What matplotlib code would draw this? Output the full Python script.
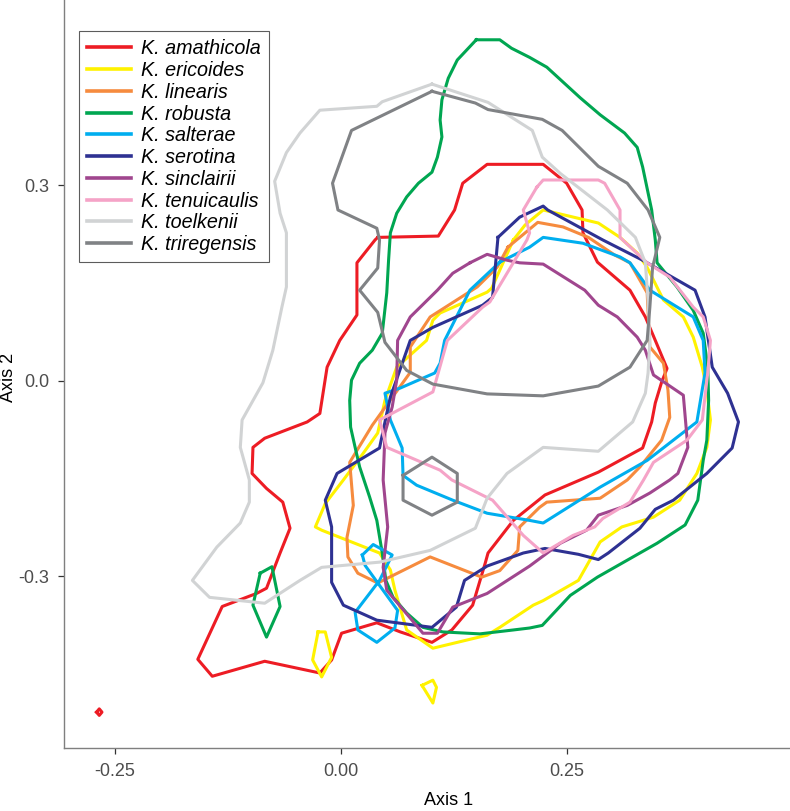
import matplotlib
matplotlib.use('Agg')
import matplotlib.pyplot as plt

plt.rcParams['font.family'] = ['Liberation Sans', 'DejaVu Sans']

# Species names and colours (legend order)
species = ['K. amathicola', 'K. ericoides', 'K. linearis', 'K. robusta', 'K. salterae',
           'K. serotina', 'K. sinclairii', 'K. tenuicaulis', 'K. toelkenii', 'K. triregensis']
colors = ['#ED1C24', '#FFF200', '#F68B3E', '#00A651', '#00AEEF',
          '#2E3192', '#A0468E', '#F5A3C7', '#D1D3D4', '#808285']

# Contour outlines, (Axis 1, Axis 2)
amathicola_main = [(0.041, 0.220), (0.108, 0.222), (0.126, 0.262), (0.135, 0.303), (0.162, 0.332),
                   (0.224, 0.332), (0.250, 0.303), (0.267, 0.262), (0.268, 0.227), (0.284, 0.182),
                   (0.320, 0.139), (0.337, 0.098), (0.348, 0.062), (0.361, 0.019), (0.355, -0.002),
                   (0.348, -0.034), (0.344, -0.063), (0.334, -0.103), (0.285, -0.140), (0.226, -0.175),
                   (0.191, -0.214), (0.163, -0.264), (0.160, -0.279), (0.146, -0.344), (0.123, -0.382),
                   (0.101, -0.401), (0.066, -0.385), (0.040, -0.371), (0.001, -0.387), (-0.010, -0.428),
                   (-0.023, -0.448), (-0.084, -0.430), (-0.142, -0.453), (-0.158, -0.427), (-0.131, -0.346),
                   (-0.093, -0.326), (-0.082, -0.318), (-0.067, -0.264), (-0.056, -0.226), (-0.064, -0.186),
                   (-0.082, -0.165), (-0.098, -0.142), (-0.097, -0.102), (-0.084, -0.088), (-0.037, -0.063),
                   (-0.023, -0.050), (-0.015, 0.021), (-0.001, 0.062), (0.018, 0.101), (0.018, 0.181),
                   (0.038, 0.216)]
amathicola_dot = [(-0.270, -0.508), (-0.267, -0.503), (-0.264, -0.508), (-0.267, -0.513)]

ericoides_main = [(0.191, 0.216), (0.204, 0.239), (0.224, 0.262), (0.285, 0.242), (0.309, 0.220),
                  (0.328, 0.196), (0.339, 0.174), (0.357, 0.124), (0.379, 0.098), (0.390, 0.067),
                  (0.400, 0.021), (0.405, -0.014), (0.409, -0.060), (0.405, -0.102), (0.394, -0.142),
                  (0.375, -0.183), (0.346, -0.209), (0.311, -0.224), (0.287, -0.247), (0.263, -0.306),
                  (0.224, -0.337), (0.213, -0.344), (0.176, -0.378), (0.162, -0.390), (0.102, -0.410),
                  (0.073, -0.382), (0.060, -0.321), (0.055, -0.290), (0.043, -0.264), (-0.021, -0.229),
                  (-0.028, -0.224), (-0.017, -0.188), (0.003, -0.152), (0.025, -0.111), (0.041, -0.080),
                  (0.049, -0.030), (0.062, 0.021), (0.095, 0.062), (0.102, 0.093), (0.110, 0.104),
                  (0.162, 0.136), (0.167, 0.142)]
ericoides_left = [(-0.025, -0.385), (-0.017, -0.385), (-0.010, -0.424), (-0.021, -0.454), (-0.031, -0.428)]
ericoides_low = [(0.090, -0.467), (0.102, -0.459), (0.106, -0.470), (0.102, -0.494)]

linearis_main = [(0.185, 0.205), (0.218, 0.243), (0.246, 0.236), (0.274, 0.220), (0.303, 0.193),
                 (0.320, 0.181), (0.339, 0.135), (0.342, 0.052), (0.357, 0.027), (0.362, -0.014),
                 (0.364, -0.056), (0.355, -0.091), (0.331, -0.132), (0.317, -0.152), (0.287, -0.180),
                 (0.228, -0.186), (0.220, -0.194), (0.198, -0.224), (0.196, -0.260), (0.176, -0.291),
                 (0.156, -0.301), (0.099, -0.270), (0.041, -0.310), (0.019, -0.295), (0.008, -0.270),
                 (0.007, -0.240), (0.014, -0.191), (0.010, -0.125), (0.035, -0.068), (0.077, 0.013),
                 (0.077, 0.052), (0.099, 0.098), (0.151, 0.144), (0.173, 0.174)]

robusta_main = [(0.150, 0.523), (0.176, 0.523), (0.189, 0.510), (0.209, 0.496), (0.228, 0.481),
                (0.265, 0.434), (0.287, 0.408), (0.314, 0.380), (0.328, 0.358), (0.334, 0.328),
                (0.344, 0.262), (0.348, 0.216), (0.350, 0.181), (0.372, 0.144), (0.390, 0.108),
                (0.401, 0.073), (0.406, 0.021), (0.407, -0.030), (0.405, -0.091), (0.401, -0.122),
                (0.395, -0.183), (0.381, -0.221), (0.350, -0.249), (0.284, -0.301), (0.254, -0.329),
                (0.223, -0.375), (0.209, -0.379), (0.191, -0.382), (0.154, -0.388), (0.113, -0.385),
                (0.091, -0.378), (0.073, -0.356), (0.058, -0.332), (0.050, -0.306), (0.046, -0.264),
                (0.040, -0.214), (0.032, -0.178), (0.021, -0.132), (0.016, -0.102), (0.011, -0.071),
                (0.010, -0.030), (0.012, 0.001), (0.021, 0.027), (0.035, 0.047), (0.046, 0.073),
                (0.051, 0.135), (0.053, 0.185), (0.055, 0.227), (0.062, 0.257), (0.073, 0.282),
                (0.086, 0.303), (0.101, 0.320), (0.107, 0.343), (0.112, 0.374), (0.110, 0.400),
                (0.112, 0.431), (0.119, 0.464), (0.129, 0.492)]
robusta_left = [(-0.089, -0.295), (-0.076, -0.285), (-0.067, -0.346), (-0.082, -0.393), (-0.097, -0.344)]

salterae_main = [(0.176, 0.182), (0.209, 0.205), (0.224, 0.220), (0.268, 0.211), (0.309, 0.190),
                 (0.320, 0.181), (0.342, 0.139), (0.390, 0.098), (0.401, 0.062), (0.403, 0.012),
                 (0.394, -0.063), (0.339, -0.122), (0.287, -0.163), (0.224, -0.218), (0.209, -0.214),
                 (0.162, -0.203), (0.124, -0.183), (0.084, -0.160), (0.069, -0.145), (0.068, -0.103),
                 (0.055, -0.060), (0.049, -0.019), (0.066, -0.011), (0.104, 0.012), (0.110, 0.027),
                 (0.115, 0.062), (0.143, 0.139)]
salterae_low = [(0.024, -0.267), (0.036, -0.251), (0.057, -0.267), (0.043, -0.306), (0.016, -0.355),
                (0.019, -0.382), (0.040, -0.401), (0.060, -0.379), (0.063, -0.352), (0.027, -0.283)]

serotina_main = [(0.174, 0.220), (0.198, 0.251), (0.224, 0.268), (0.229, 0.262), (0.290, 0.216),
                 (0.334, 0.185), (0.392, 0.139), (0.403, 0.098), (0.411, 0.021), (0.428, -0.019),
                 (0.440, -0.063), (0.433, -0.103), (0.405, -0.142), (0.368, -0.183), (0.348, -0.197),
                 (0.331, -0.226), (0.296, -0.264), (0.285, -0.274), (0.263, -0.266), (0.226, -0.257),
                 (0.202, -0.264), (0.162, -0.284), (0.137, -0.306), (0.128, -0.347), (0.101, -0.378),
                 (0.040, -0.367), (0.003, -0.344), (-0.010, -0.309), (-0.010, -0.224), (-0.017, -0.183),
                 (-0.004, -0.142), (0.043, -0.103), (0.051, -0.050), (0.055, -0.025), (0.077, 0.062),
                 (0.102, 0.082), (0.157, 0.116), (0.168, 0.128)]

sinclairii_main = [(0.143, 0.181), (0.162, 0.194), (0.184, 0.185), (0.198, 0.181), (0.224, 0.179),
                   (0.270, 0.139), (0.285, 0.116), (0.306, 0.098), (0.328, 0.067), (0.337, 0.047),
                   (0.346, 0.009), (0.379, -0.022), (0.384, -0.102), (0.373, -0.142), (0.364, -0.152),
                   (0.342, -0.172), (0.317, -0.191), (0.285, -0.206), (0.272, -0.229), (0.243, -0.249),
                   (0.209, -0.284), (0.162, -0.326), (0.124, -0.347), (0.107, -0.387), (0.091, -0.387),
                   (0.051, -0.321), (0.047, -0.286), (0.052, -0.224), (0.047, -0.152), (0.049, -0.080),
                   (0.057, -0.040), (0.062, 0.001), (0.063, 0.062), (0.077, 0.098), (0.107, 0.139),
                   (0.124, 0.165)]

tenuicaulis_main = [(0.217, 0.297), (0.224, 0.308), (0.285, 0.308), (0.292, 0.303), (0.309, 0.262),
                    (0.309, 0.220), (0.312, 0.216), (0.339, 0.181), (0.364, 0.159), (0.390, 0.113),
                    (0.401, 0.098), (0.409, 0.062), (0.406, 0.012), (0.400, -0.060), (0.383, -0.091),
                    (0.346, -0.125), (0.335, -0.152), (0.320, -0.186), (0.290, -0.211), (0.281, -0.224),
                    (0.257, -0.237), (0.224, -0.264), (0.202, -0.237), (0.168, -0.183), (0.123, -0.152),
                    (0.110, -0.137), (0.051, -0.102), (0.043, -0.060), (0.102, -0.017), (0.118, 0.062),
                    (0.157, 0.113), (0.165, 0.121), (0.206, 0.216), (0.209, 0.227), (0.202, 0.262)]

toelkenii_main = [(0.101, 0.455), (0.163, 0.427), (0.212, 0.384), (0.223, 0.343), (0.243, 0.318),
                  (0.295, 0.262), (0.326, 0.220), (0.337, 0.181), (0.340, 0.124), (0.342, 0.062),
                  (0.340, 0.012), (0.337, -0.019), (0.323, -0.063), (0.285, -0.108), (0.224, -0.102),
                  (0.184, -0.142), (0.162, -0.180), (0.149, -0.226), (0.099, -0.260), (0.043, -0.278),
                  (-0.021, -0.286), (-0.045, -0.306), (-0.084, -0.341), (-0.145, -0.332), (-0.164, -0.306),
                  (-0.137, -0.255), (-0.111, -0.218), (-0.101, -0.186), (-0.101, -0.152), (-0.111, -0.102),
                  (-0.109, -0.060), (-0.086, -0.003), (-0.075, 0.047), (-0.065, 0.113), (-0.060, 0.144),
                  (-0.060, 0.185), (-0.060, 0.227), (-0.067, 0.257), (-0.073, 0.306), (-0.060, 0.350),
                  (-0.045, 0.380), (-0.023, 0.415), (0.040, 0.421), (0.046, 0.428)]

triregensis_main = [(0.101, 0.444), (0.149, 0.426), (0.163, 0.416), (0.223, 0.401), (0.245, 0.384),
                    (0.285, 0.329), (0.317, 0.303), (0.340, 0.262), (0.353, 0.220), (0.345, 0.174),
                    (0.342, 0.113), (0.339, 0.062), (0.320, 0.021), (0.285, -0.008), (0.224, -0.023),
                    (0.162, -0.020), (0.102, -0.005), (0.073, 0.016), (0.049, 0.059), (0.041, 0.105),
                    (0.021, 0.139), (0.041, 0.173), (0.043, 0.216), (0.040, 0.234), (-0.003, 0.262),
                    (-0.009, 0.303), (0.012, 0.384)]
triregensis_hex = [(0.069, -0.145), (0.101, -0.117), (0.129, -0.142), (0.129, -0.186), (0.101, -0.206),
                   (0.069, -0.183)]

contours = {
    'K. amathicola': [amathicola_main, amathicola_dot],
    'K. ericoides': [ericoides_main, ericoides_left, ericoides_low],
    'K. linearis': [linearis_main],
    'K. robusta': [robusta_main, robusta_left],
    'K. salterae': [salterae_main, salterae_low],
    'K. serotina': [serotina_main],
    'K. sinclairii': [sinclairii_main],
    'K. tenuicaulis': [tenuicaulis_main],
    'K. toelkenii': [toelkenii_main],
    'K. triregensis': [triregensis_main, triregensis_hex],
}

fig = plt.figure(figsize=(7.9, 8.11), dpi=100)
ax = fig.add_axes([64 / 790, 63 / 811, 726 / 790, 748 / 811])

for name, color in zip(species, colors):
    for i, pts in enumerate(contours[name]):
        xs = [p[0] for p in pts] + [pts[0][0]]
        ys = [p[1] for p in pts] + [pts[0][1]]
        ax.plot(xs, ys, color=color, lw=2.2, label=name if i == 0 else None)

ax.set_xlim(-0.306, 0.497)
ax.set_ylim(-0.563, 0.584)
ax.set_xticks([-0.25, 0.0, 0.25])
ax.set_xticklabels(['-0.25', '0.00', '0.25'])
ax.set_yticks([-0.3, 0.0, 0.3])
ax.set_yticklabels(['-0.3', '0.0', '0.3'])

for side in ['top', 'right']:
    ax.spines[side].set_visible(False)
for side in ['left', 'bottom']:
    ax.spines[side].set_color('#7F7F7F')
    ax.spines[side].set_linewidth(1.0)

ax.tick_params(length=4.5, width=0.9, color='#333333', labelcolor='#4D4D4D',
               labelsize=13, pad=6)
ax.set_xlabel('Axis 1', fontsize=13)
ax.set_ylabel('Axis 2', fontsize=13)
# label positions in axes coordinates (panel centre is off to the right in the source)
ax.xaxis.set_label_coords(0.530, -0.0585)
ax.yaxis.set_label_coords(-0.065, 0.495)

leg = ax.legend(loc='upper left', bbox_to_anchor=(0.0207, 0.9586), borderaxespad=0,
                prop={'style': 'italic', 'size': 14.2}, handlelength=2.2,
                handletextpad=0.5, labelspacing=0.14, borderpad=0.42,
                fancybox=False, frameon=True)
leg.get_frame().set_edgecolor('#333333')
leg.get_frame().set_linewidth(0.8)
for line in leg.get_lines():
    line.set_linewidth(2.6)

fig.savefig('out.png', dpi=100)
